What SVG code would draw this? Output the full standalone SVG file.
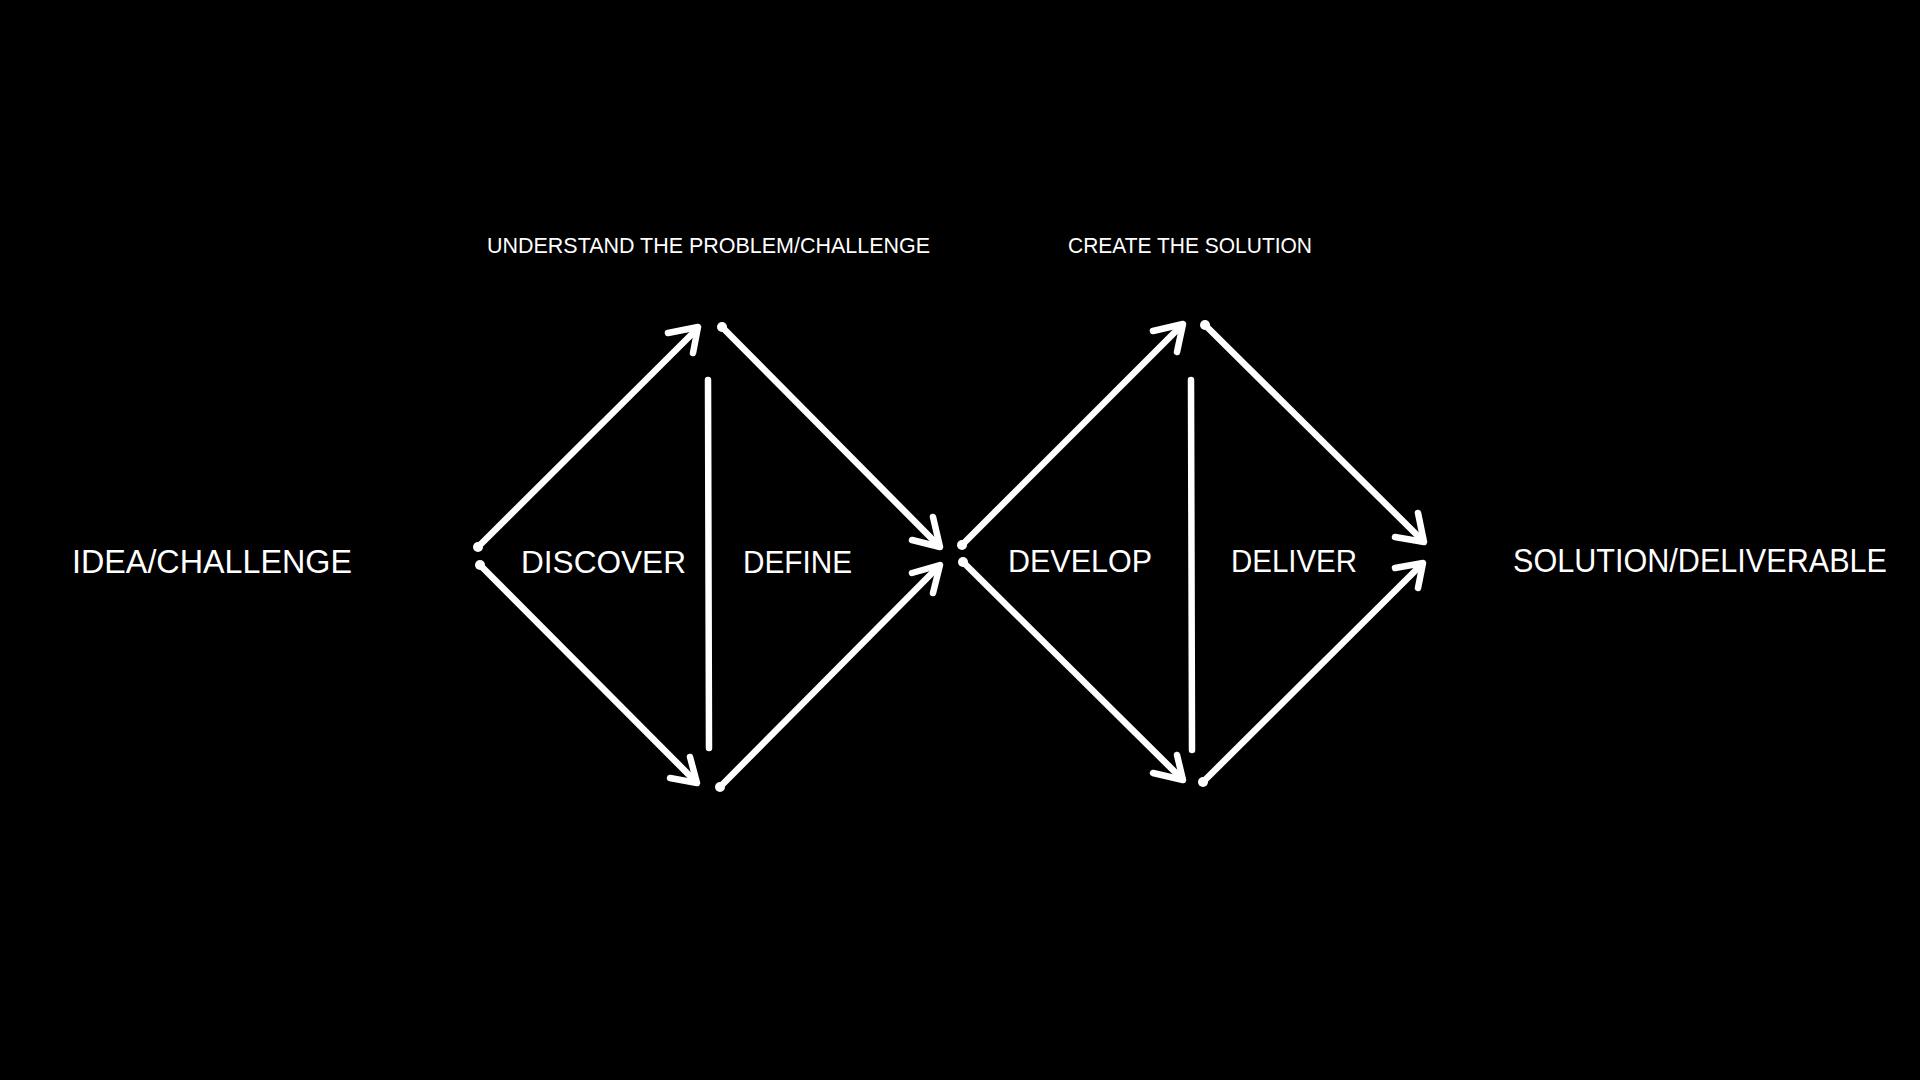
<svg xmlns="http://www.w3.org/2000/svg" width="1920" height="1080" viewBox="0 0 1920 1080">
<style>
.bg{fill:#000}
.lbl{fill:#fff;font-family:"Liberation Sans",Arial,sans-serif;font-weight:400}
.big{font-size:33px}
.mid{font-size:31px}
.small{font-size:22px}
.ln{stroke:#fff;stroke-width:6.5;stroke-linecap:round;stroke-linejoin:round;fill:none}
.dot{fill:#fff}
</style>
<rect class="bg" x="0" y="0" width="1920" height="1080"/>
<g id="connectors">
  <path class="ln" d="M478,547 L696,330"/>
  <path class="ln" d="M668,333 L698,327 L693,353"/>
  <path class="ln" d="M480,565 L695,781"/>
  <path class="ln" d="M670,778 L697,783 L690,757"/>
  <path class="ln" d="M722,327 L938,545"/>
  <path class="ln" d="M912,540 L940,547 L933,517"/>
  <path class="ln" d="M720,787 L938,567"/>
  <path class="ln" d="M912,573 L940,565 L933,593"/>
  <path class="ln" d="M708,380 L709,748"/>
  <path class="ln" d="M962,545 L1181,326"/>
  <path class="ln" d="M1153,331 L1183,324 L1177,352"/>
  <path class="ln" d="M963,562 L1181,778"/>
  <path class="ln" d="M1153,773 L1183,780 L1177,755"/>
  <path class="ln" d="M1205,325 L1422,540"/>
  <path class="ln" d="M1395,537 L1424,542 L1418,513"/>
  <path class="ln" d="M1203,782 L1421,565"/>
  <path class="ln" d="M1395,568 L1423,563 L1418,588"/>
  <path class="ln" d="M1191,380 L1192,750"/>
  <circle class="dot" cx="478" cy="547" r="5"/>
  <circle class="dot" cx="480" cy="565" r="5"/>
  <circle class="dot" cx="722" cy="327" r="5"/>
  <circle class="dot" cx="720" cy="787" r="5"/>
  <circle class="dot" cx="962" cy="545" r="5"/>
  <circle class="dot" cx="963" cy="562" r="5"/>
  <circle class="dot" cx="1205" cy="325" r="5"/>
  <circle class="dot" cx="1203" cy="782" r="5"/>
</g>
<g id="node-top-understand"><text class="lbl small" x="487" y="253" textLength="443" lengthAdjust="spacingAndGlyphs">UNDERSTAND THE PROBLEM/CHALLENGE</text></g>
<g id="node-top-create"><text class="lbl small" x="1068" y="253" textLength="244" lengthAdjust="spacingAndGlyphs">CREATE THE SOLUTION</text></g>
<g id="node-idea"><text class="lbl big" x="72" y="573" textLength="280" lengthAdjust="spacingAndGlyphs">IDEA/CHALLENGE</text></g>
<g id="node-discover"><text class="lbl mid" x="521" y="573" textLength="165" lengthAdjust="spacingAndGlyphs">DISCOVER</text></g>
<g id="node-define"><text class="lbl mid" x="743" y="573" textLength="109" lengthAdjust="spacingAndGlyphs">DEFINE</text></g>
<g id="node-develop"><text class="lbl mid" x="1008" y="572" textLength="144" lengthAdjust="spacingAndGlyphs">DEVELOP</text></g>
<g id="node-deliver"><text class="lbl mid" x="1231" y="572" textLength="126" lengthAdjust="spacingAndGlyphs">DELIVER</text></g>
<g id="node-solution"><text class="lbl big" x="1513" y="572" textLength="374" lengthAdjust="spacingAndGlyphs">SOLUTION/DELIVERABLE</text></g>
</svg>
